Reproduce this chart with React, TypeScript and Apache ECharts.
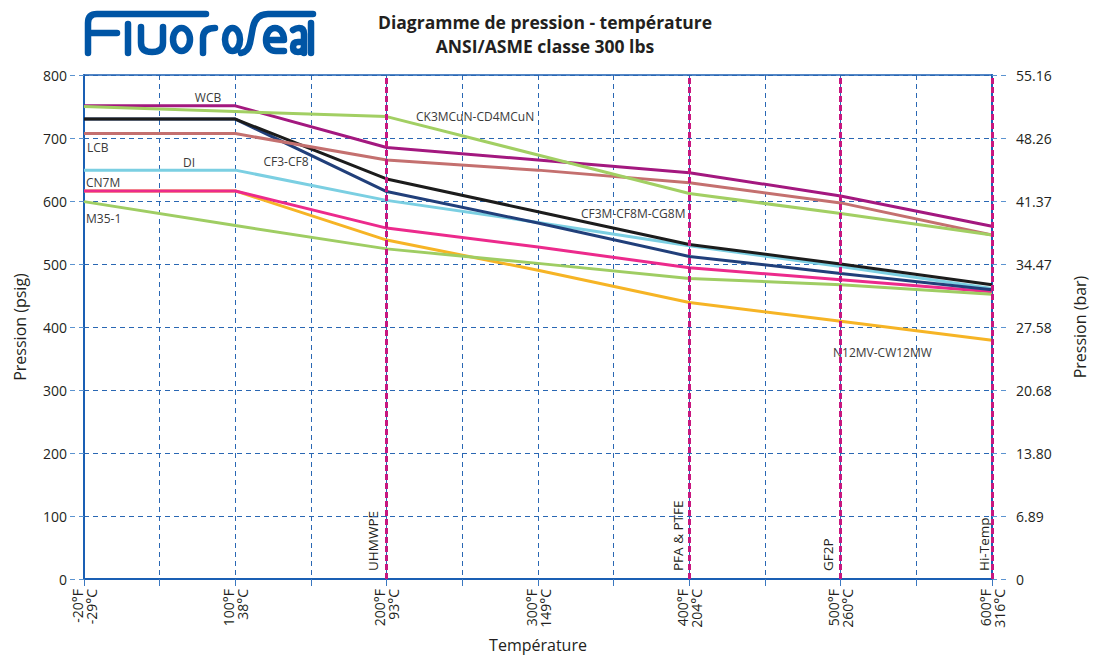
import React, { useEffect, useRef } from "react";
import * as echarts from "echarts";

// ---- Data ----
const xLabels = ["-20°F\n-29°C", "100°F\n38°C", "200°F\n93°C", "300°F\n149°C", "400°F\n204°C", "500°F\n260°C", "600°F\n316°C"];
const barLabels = ["0", "6.89", "13.80", "20.68", "27.58", "34.47", "41.37", "48.26", "55.16"];
const xIdx = [0, 1, 2, 3, 4, 5, 6];

const n12mv = [616, 616, 538, 490, 439, 409, 379];
const cn7m = [616, 616, 557, 527, 494, 475, 456];
const m35 = [599, 561, 524, 501, 477, 467, 452];
const di = [649, 649, 601, 566, 529, 496, 461];
const cf3cf8 = [730, 730, 615, 565, 512, 485, 459];
const cf3m = [730, 730, 635, 583, 531, 500, 467];
const lcb = [707, 707, 665, 649, 629, 597, 546];
const wcb = [751, 751, 685, 665, 645, 608, 560];
const ck3 = [750, 742, 734, 673, 612, 580, 546];

const materialLines = [2, 4, 5, 6];

const seriesDefs = [
  { name: "N12MV-CW12MW", data: n12mv, color: "#f6b425" },
  { name: "CN7M", data: cn7m, color: "#ec2a8c" },
  { name: "M35-1", data: m35, color: "#9fcd63" },
  { name: "DI", data: di, color: "#7bcfe2" },
  { name: "CF3-CF8", data: cf3cf8, color: "#213f7a" },
  { name: "CF3M-CF8M-CG8M", data: cf3m, color: "#1c1c1c" },
  { name: "LCB", data: lcb, color: "#c4706f" },
  { name: "WCB", data: wcb, color: "#a3187f" },
  { name: "CK3MCuN-CD4MCuN", data: ck3, color: "#a2cf63" },
];

function ell(cx: number, cy: number, rx: number, ry: number) {
  const k = 0.5523;
  return `M${cx - rx} ${cy} C${cx - rx} ${cy - k * ry} ${cx - k * rx} ${cy - ry} ${cx} ${cy - ry} C${cx + k * rx} ${cy - ry} ${cx + rx} ${cy - k * ry} ${cx + rx} ${cy} C${cx + rx} ${cy + k * ry} ${cx + k * rx} ${cy + ry} ${cx} ${cy + ry} C${cx - k * rx} ${cy + ry} ${cx - rx} ${cy + k * ry} ${cx - rx} ${cy} Z `;
}

const logoD =
  "M88 53 L88 23 Q88 14 97 14 L206 14 M88 33 L117 33 " +
  "M128 24 L128 53 " +
  "M141 27 L141 43 Q141 52 152 52 Q163 52 163 43 L163 27 " +
  ell(181.5, 39.5, 8.5, 11.5) +
  "M203 53 L203 38 Q203 28 215 28 " +
  ell(232.5, 39.5, 7.5, 11.5) +
  "M313 14 L268 14 Q256 14 253 27 L250 43 Q248 52 241 53 " +
  "M266 40 L284 40 C284 33 280 28 275 28 C270 28 266 33 266 40 C266 47 270 51 276 51 L284 51 " +
  "M293 30 Q296 28 299 28 Q304 28 304 34 L304 53 M304 42 L298 42 Q293 42 293 47 Q293 52 298 52 Q304 52 304 46 " +
  "M311 23 L311 53";

const FONT = "Open Sans";

export default function App() {
  const ref = useRef<HTMLDivElement>(null);
  useEffect(() => {
    if (!ref.current) return;
    echarts.graphic.registerShape("logo", echarts.graphic.extendPath(logoD, {}));
    const chart = echarts.init(ref.current, undefined, { renderer: "svg" });
    const labelStyle = (text: string, x: number, y: number, align = "left") => ({
      type: "text",
      x,
      y,
      style: { text, fontSize: 12, fontFamily: FONT, fill: "#3a3a3a", textAlign: align, textVerticalAlign: "middle" },
    });
    const vLabel = (text: string, x: number) => ({
      type: "text",
      x,
      y: 571,
      rotation: Math.PI / 2,
      style: { text, fontSize: 13.5, fontFamily: FONT, fill: "#231f20", textAlign: "left", textVerticalAlign: "middle" },
    });
    const series: any[] = seriesDefs.map((s) => ({
      type: "line",
      name: s.name,
      data: xIdx.map((x, j) => [x, s.data[j]]),
      symbol: "none",
      lineStyle: { color: s.color, width: 3 },
      itemStyle: { color: s.color },
      z: 3,
    }));
    series.unshift({
      type: "line",
      name: "materials",
      data: [],
      z: 2,
      markLine: {
        silent: true,
        symbol: "none",
        label: { show: false },
        lineStyle: { color: "#c8177f", width: 3, type: [6, 3] },
        data: materialLines.map((v) => ({ xAxis: v })),
      },
    });
    chart.setOption({
      animation: false,
      textStyle: { fontFamily: FONT },
      grid: {
        left: 84,
        right: 104,
        top: 75,
        bottom: 77,
        show: true,
        borderColor: "#1a5fb4",
        borderWidth: 1.5,
        containLabel: false,
        outerBoundsMode: "none",
      },
      xAxis: {
        type: "value",
        min: 0,
        max: 6,
        interval: 0.5,
        name: "Température",
        nameLocation: "middle",
        nameGap: 58,
        nameTextStyle: { fontSize: 16, color: "#231f20", fontFamily: FONT },
        axisLine: { show: true, lineStyle: { color: "#1a5fb4", width: 2 } },
        axisTick: { show: true, length: 7, lineStyle: { color: "#3b78c0" } },
        axisLabel: {
          rotate: 90,
          fontSize: 14,
          lineHeight: 14,
          color: "#231f20",
          margin: 10,
          formatter: (v: number) => (Number.isInteger(v) ? xLabels[v] : ""),
        },
        splitLine: { show: true, lineStyle: { color: "#2a67b3", width: 1, type: [5, 4] } },
      },
      yAxis: [
        {
          type: "value",
          min: 0,
          max: 800,
          interval: 100,
          position: "left",
          name: "Pression (psig)",
          nameLocation: "middle",
          nameGap: 56,
          nameTextStyle: { fontSize: 16, color: "#231f20", fontFamily: FONT },
          axisLine: { show: true, lineStyle: { color: "#1a5fb4", width: 2 } },
          axisTick: { show: true, length: 14, lineStyle: { color: "#5b93d0", type: [5, 4] } },
          axisLabel: { fontSize: 14, color: "#231f20", margin: 17 },
          splitLine: { show: true, lineStyle: { color: "#2a67b3", width: 1, type: [5, 4] } },
        },
        {
          type: "value",
          min: 0,
          max: 800,
          interval: 100,
          position: "right",
          name: "Pression (bar)",
          nameLocation: "middle",
          nameGap: 80,
          nameTextStyle: { fontSize: 16, color: "#231f20", fontFamily: FONT },
          axisLine: { show: true, lineStyle: { color: "#1a5fb4", width: 2 } },
          axisTick: { show: true, length: 18, lineStyle: { color: "#5b93d0", type: [5, 4] } },
          axisLabel: { fontSize: 14, color: "#231f20", margin: 24, formatter: (v: number) => barLabels[Math.round(v / 100)] },
          splitLine: { show: false },
        },
      ],
      series,
      graphic: [
        {
          type: "logo",
          x: 0,
          y: 0,
          shape: {},
          style: { stroke: "#0055a5", lineWidth: 6.5, fill: null, lineCap: "round", lineJoin: "round" },
        },
        {
          type: "text",
          x: 545,
          y: 22,
          style: { text: "Diagramme de pression - température", fontSize: 17.5, fontWeight: "bold", fontFamily: FONT, fill: "#231f20", textAlign: "center", textVerticalAlign: "middle" },
        },
        {
          type: "text",
          x: 545,
          y: 46,
          style: { text: "ANSI/ASME classe 300 lbs", fontSize: 17.5, fontWeight: "bold", fontFamily: FONT, fill: "#231f20", textAlign: "center", textVerticalAlign: "middle" },
        },
        labelStyle("WCB", 208, 97, "center"),
        labelStyle("LCB", 87, 147),
        labelStyle("DI", 189, 162, "center"),
        labelStyle("CN7M", 86, 182),
        labelStyle("M35-1", 86, 218),
        labelStyle("CF3-CF8", 286, 161, "center"),
        labelStyle("CK3MCuN-CD4MCuN", 416, 116),
        labelStyle("CF3M-CF8M-CG8M", 581, 213),
        labelStyle("N12MV-CW12MW", 833, 352),
        vLabel("UHMWPE", 373),
        vLabel("PFA & PTFE", 678),
        vLabel("GF2P", 828),
        vLabel("Hi-Temp", 984),
      ],
    });
    return () => chart.dispose();
  }, []);
  return <div ref={ref} style={{ position: "fixed", left: 0, top: 0, width: 1096, height: 656, background: "#fff" }} />;
}
